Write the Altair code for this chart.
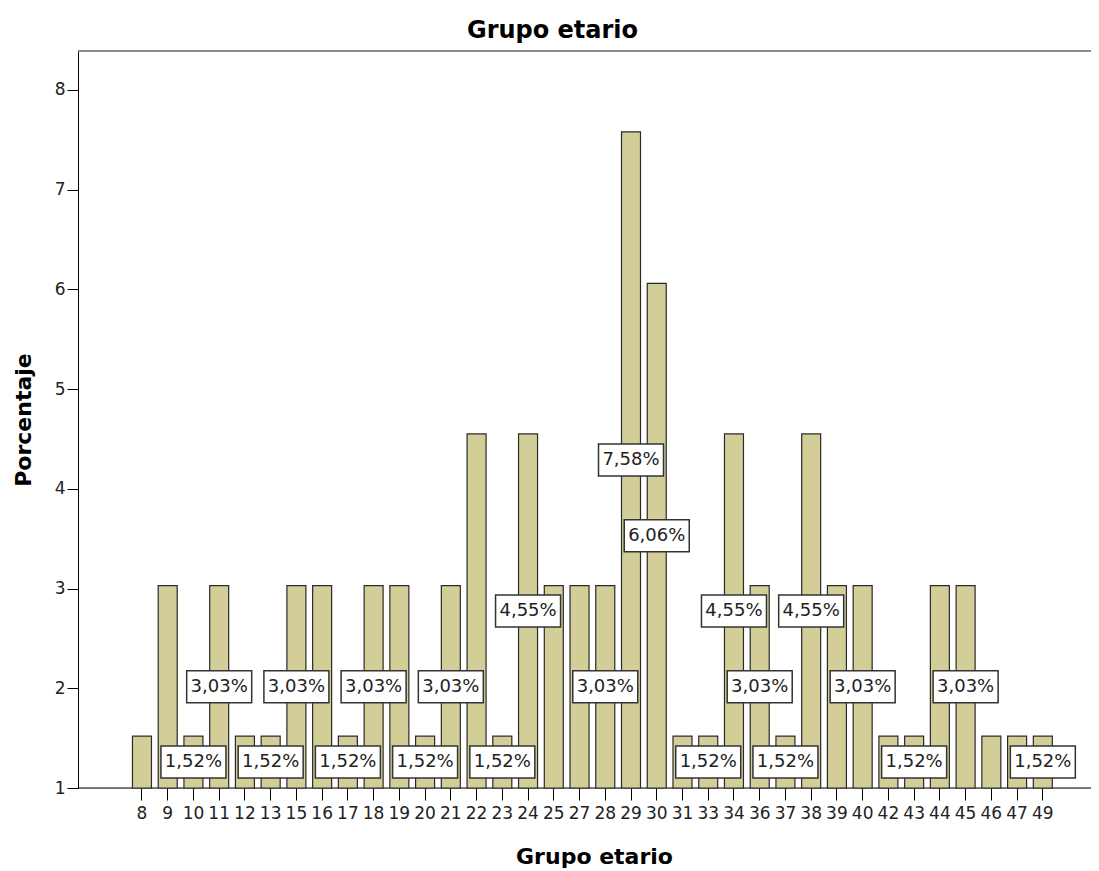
import altair as alt
import pandas as pd

ages = [8, 9, 10, 11, 12, 13, 15, 16, 17, 18, 19, 20, 21, 22, 23, 24, 25, 27,
        28, 29, 30, 31, 33, 34, 36, 37, 38, 39, 40, 42, 43, 44, 45, 46, 47, 49]
percents = [1.52, 3.03, 1.52, 3.03, 1.52, 1.52, 3.03, 3.03, 1.52, 3.03, 3.03, 1.52,
            3.03, 4.55, 1.52, 4.55, 3.03, 3.03, 3.03, 7.58, 6.06, 1.52, 1.52, 4.55,
            3.03, 1.52, 4.55, 3.03, 3.03, 1.52, 1.52, 3.03, 3.03, 1.52, 1.52, 1.52]
labeled_ages = [10, 11, 13, 15, 17, 18, 20, 21, 23, 24, 28, 29, 30, 33, 34, 36,
                37, 38, 40, 43, 45, 49]
y_ticks = [1, 2, 3, 4, 5, 6, 7, 8]

FONT = "DejaVu Sans"
W, H = 1013, 737

age_str = [str(a) for a in ages]
df = pd.DataFrame({
    "age": age_str,
    "pct": percents,
    "label": [f"{v:.2f}".replace(".", ",") + "%" for v in percents],
    "show": [a in labeled_ages for a in ages],
})

x_enc = alt.X(
    "age:N",
    sort=age_str,
    scale=alt.Scale(range=[41.6, 987.2], paddingInner=0.262, paddingOuter=0.5),
    axis=alt.Axis(
        title="Grupo etario", labelAngle=0, tickSize=12, labelPadding=5,
        labelFontSize=17, labelFont=FONT, labelColor="#222",
        titleFontSize=22, titleFont=FONT, titleFontWeight="bold", titleColor="#000",
        titlePadding=25, titleX=516, domain=False, tickColor="#000",
        labelOverlap=False,
    ),
)
y_scale = alt.Scale(domain=[1, 8.39], nice=False, zero=False)

base = alt.Chart(df)
one = alt.Data(values=[{"a": 1}])

frame_top = alt.Chart(one).mark_rule(color="#8a8a8a", strokeWidth=2).encode(
    x=alt.value(0), x2=alt.value(W), y=alt.value(0)
)
frame_bottom = alt.Chart(one).mark_rule(color="#000", strokeWidth=1).encode(
    x=alt.value(0), x2=alt.value(W), y=alt.value(H)
)

bars = base.mark_bar(fill="#D3CE97", stroke="#2a2a2a", strokeWidth=1.2).encode(
    x=x_enc,
    y=alt.Y(
        "pct:Q", scale=y_scale,
        axis=alt.Axis(
            title="Porcentaje", values=y_ticks, format="d", tickSize=11,
            labelPadding=2, labelFontSize=17, labelFont=FONT, labelColor="#222",
            titleFontSize=22, titleFont=FONT, titleFontWeight="bold",
            titleColor="#000", titlePadding=19, grid=False,
            domainColor="#000", tickColor="#000",
        ),
    ),
    y2=alt.datum(1),
)

lab = base.transform_filter("datum.show").transform_calculate(
    mid="(datum.pct + 1) / 2"
)

boxes = lab.mark_point(
    shape="M-1,-0.492H1V0.492H-1Z", size=4225, filled=True, fill="white",
    stroke="#333333", strokeWidth=1.5, opacity=1,
).encode(x=x_enc, y=alt.Y("mid:Q", scale=y_scale))

texts = lab.mark_text(font=FONT, fontSize=18, color="#222").encode(
    x=x_enc, y=alt.Y("mid:Q", scale=y_scale), text="label:N"
)

chart = alt.layer(frame_top, frame_bottom, bars, boxes, texts).properties(
    width=W, height=H,
    title=alt.TitleParams(
        "Grupo etario", fontSize=24, font=FONT, fontWeight="bold",
        color="#000", frame="group", dx=-32, offset=7,
    ),
    autosize=alt.AutoSizeParams(type="none"),
    padding={"left": 70, "top": 43, "right": 0, "bottom": 85},
).configure_view(stroke=None).configure(background="white")

chart.save("out.html", embed_options={"renderer": "svg", "actions": False})
